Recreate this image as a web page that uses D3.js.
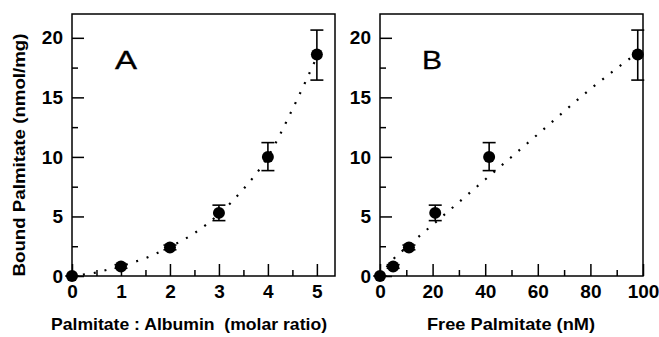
<!DOCTYPE html>
<html>
<head>
<meta charset="utf-8">
<script src="https://cdn.jsdelivr.net/npm/d3@7"></script>
<style>
  body { margin: 0; background: #fff; }
  svg { display: block; font-family: "Liberation Sans", Arial, Helvetica, sans-serif; }
</style>
</head>
<body>
<svg width="659" height="337"></svg>
<script>
// measured data
var ratioA = [0, 1, 2, 3, 4, 5];
var freeB = [0, 5, 11, 21, 41.5, 98];
var bound = [0, 0.8, 2.4, 5.3, 10.0, 18.6];
var boundLo = [0, 0.65, 2.2, 4.65, 8.85, 16.45];
var boundHi = [0, 0.95, 2.6, 5.95, 11.2, 20.65];

// dotted fitted curves
var fitAX = [0, 0.5, 1, 1.5, 2, 2.5, 3, 3.5, 4, 4.5, 5];
var fitAY = [0, 0.3, 0.85, 1.5, 2.45, 3.6, 5.2, 7.3, 10.0, 14.0, 18.4];
var fitBX = [0, 5, 10, 20, 40, 60, 80, 97];
var fitBY = [0, 1.4, 2.4, 4.3, 8.1, 11.9, 15.7, 18.6];

// ticks
var yTicks = [0, 5, 10, 15, 20];
var yMinor = [2.5, 7.5, 12.5, 17.5];
var ratioTicks = [0, 1, 2, 3, 4, 5];
var ratioMinor = [0.5, 1.5, 2.5, 3.5, 4.5];
var freeTicks = [0, 20, 40, 60, 80, 100];
var freeMinor = [10, 30, 50, 70, 90];

var yTitle = "Bound Palmitate (nmol/mg)";
var titleA = "Palmitate : Albumin  (molar ratio)";
var titleB = "Free Palmitate (nM)";

var svg = d3.select("svg");
var plotTop = 14, plotBottom = 276;

var y = d3.scaleLinear().domain([0, 22]).range([plotBottom, plotTop]);

var panels = [
  { letter: "A", xs: ratioA, domain: [0, 5.37], range: [72, 335], ticks: ratioTicks, minor: ratioMinor,
    fitX: fitAX, fitY: fitAY, title: titleA, titleX: 51, titleLen: 276, letterX: 115, letterLen: 22 },
  { letter: "B", xs: freeB, domain: [0, 100], range: [380, 643], ticks: freeTicks, minor: freeMinor,
    fitX: fitBX, fitY: fitBY, title: titleB, titleX: 427, titleLen: 168, letterX: 422, letterLen: 20 }
];

panels.forEach(function(p) {
  var x = d3.scaleLinear().domain(p.domain).range(p.range);
  var g = svg.append("g");

  // frame
  g.append("rect")
    .attr("x", p.range[0]).attr("y", plotTop)
    .attr("width", p.range[1] - p.range[0]).attr("height", plotBottom - plotTop)
    .attr("fill", "none").attr("stroke", "#000").attr("stroke-width", 1.5);

  // x axis (inward ticks)
  g.append("g").attr("transform", "translate(0," + plotBottom + ")")
    .call(d3.axisBottom(x).tickValues(p.ticks).tickFormat(d3.format("d"))
      .tickSizeInner(-12).tickSizeOuter(0).tickPadding(9));
  g.append("g").attr("transform", "translate(0," + plotBottom + ")")
    .call(d3.axisBottom(x).tickValues(p.minor).tickSizeInner(-6).tickSizeOuter(0).tickFormat(""));

  // y axis
  g.append("g").attr("transform", "translate(" + p.range[0] + ",0)")
    .call(d3.axisLeft(y).tickValues(yTicks).tickFormat(d3.format("d"))
      .tickSizeInner(-12).tickSizeOuter(0).tickPadding(9));
  g.append("g").attr("transform", "translate(" + p.range[0] + ",0)")
    .call(d3.axisLeft(y).tickValues(yMinor).tickSizeInner(-6).tickSizeOuter(0).tickFormat(""));

  g.selectAll(".domain").remove();
  g.selectAll(".tick line").attr("stroke", "#000").attr("stroke-width", 1.5);
  g.selectAll(".tick text")
    .attr("fill", "#000")
    .attr("font-size", 19)
    .attr("font-weight", "bold")
    .attr("font-family", "Liberation Sans, Arial, sans-serif");

  // fitted curve
  var fit = p.fitX.map(function(v, i) { return [v, p.fitY[i]]; });
  g.append("path")
    .datum(fit)
    .attr("d", d3.line().x(function(d) { return x(d[0]); }).y(function(d) { return y(d[1]); }).curve(d3.curveMonotoneX))
    .attr("fill", "none")
    .attr("stroke", "#000")
    .attr("stroke-width", 2.2)
    .attr("stroke-dasharray", "2,9");

  // error bars
  var eb = g.selectAll(".err").data(p.xs).enter().append("g").attr("class", "err");
  eb.append("line")
    .attr("x1", function(d) { return x(d); }).attr("x2", function(d) { return x(d); })
    .attr("y1", function(d, i) { return y(boundLo[i]); })
    .attr("y2", function(d, i) { return y(boundHi[i]); })
    .attr("stroke", "#000").attr("stroke-width", 1.6);
  [boundLo, boundHi].forEach(function(arr) {
    eb.append("line")
      .attr("x1", function(d) { return x(d) - 6.5; }).attr("x2", function(d) { return x(d) + 6.5; })
      .attr("y1", function(d, i) { return y(arr[i]); })
      .attr("y2", function(d, i) { return y(arr[i]); })
      .attr("stroke", "#000").attr("stroke-width", 1.6);
  });

  // points
  g.selectAll(".pt").data(p.xs).enter().append("circle")
    .attr("class", "pt")
    .attr("cx", function(d) { return x(d); })
    .attr("cy", function(d, i) { return y(bound[i]); })
    .attr("r", 6)
    .attr("fill", "#000");

  // panel letter
  g.append("text")
    .attr("x", p.letterX).attr("y", 68.5)
    .attr("font-size", 26)
    .attr("stroke", "#000").attr("stroke-width", 0.35)
    .attr("textLength", p.letterLen).attr("lengthAdjust", "spacingAndGlyphs")
    .text(p.letter);

  // x title
  g.append("text")
    .attr("x", p.titleX).attr("y", 330)
    .attr("font-size", 16.5).attr("font-weight", "bold")
    .style("white-space", "pre")
    .attr("textLength", p.titleLen).attr("lengthAdjust", "spacingAndGlyphs")
    .text(p.title);
});

// y title
svg.append("text")
  .attr("transform", "translate(25,155) rotate(-90)")
  .attr("text-anchor", "middle")
  .attr("font-size", 16.5).attr("font-weight", "bold")
  .attr("textLength", 243).attr("lengthAdjust", "spacingAndGlyphs")
  .text(yTitle);
</script>
</body>
</html>
